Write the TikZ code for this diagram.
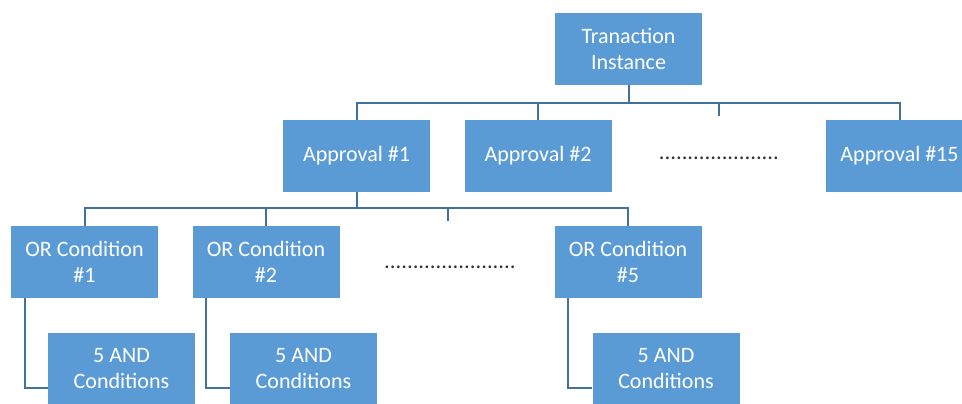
\documentclass[tikz,border=0pt]{standalone}
\usepackage{fontspec}
\setmainfont{Carlito}
\usepackage{tikz}
\definecolor{boxColor}{HTML}{5B9BD5}
\definecolor{lineColor}{HTML}{41719C}

\begin{document}
\begin{tikzpicture}[x=0.75pt, y=-0.75pt,
    box/.style={fill=boxColor, text=white, minimum width=110.25pt, minimum height=54pt,
        inner sep=0pt, align=center, font=\fontsize{16.5}{19.5}\selectfont},
    link/.style={lineColor, line width=1.5pt},
    dotrow/.style={inner sep=0pt, text=black!80, font=\fontsize{17}{20}\selectfont}]
    \useasboundingbox (0,0) rectangle (962,403);
    \clip (0,0) rectangle (962,403);

    % top level
    \node[box] (tr) at (628.5,49) {Tranaction\\Instance};

    % approvals
    \node[box] (ap1) at (356.5,156) {Approval \#1};
    \node[box] (ap2) at (538,156) {Approval \#2};
    \node[box] (ap15) at (899.5,156) {Approval \#15};
    \node[dotrow] (dots1) at (719,158) {.....................};

    % or conditions
    \node[box] (or1) at (84.5,262) {OR Condition\\\#1};
    \node[box] (or2) at (266,262) {OR Condition\\\#2};
    \node[box] (or5) at (628,262) {OR Condition\\\#5};
    \node[dotrow] (dots2) at (450,267) {.......................};

    % and conditions
    \node[box] (and1) at (121.5,369) {5 AND\\Conditions};
    \node[box] (and2) at (303.5,369) {5 AND\\Conditions};
    \node[box] (and5) at (666,369) {5 AND\\Conditions};

    % connectors
    \draw[link] (tr.south) -- ++(0,18) coordinate (topbus);
    \draw[link] (ap1.north) -- (ap1.north |- topbus) -- (ap15.north |- topbus) -- (ap15.north);
    \draw[link] (ap2.north) -- (ap2.north |- topbus);
    \coordinate (tick1) at (719,103);
    \draw[link] (tick1) -- ++(0,13);

    \draw[link] (ap1.south) -- ++(0,16) coordinate (midbus);
    \draw[link] (or1.north) -- (or1.north |- midbus) -- (or5.north |- midbus) -- (or5.north);
    \draw[link] (or2.north) -- (or2.north |- midbus);
    \coordinate (tick2) at (448,208);
    \draw[link] (tick2) -- ++(0,13);

    \draw[link] ([xshift=10.5pt]or1.south west) |- ([yshift=-14.25pt]and1.west);
    \draw[link] ([xshift=10.5pt]or2.south west) |- ([yshift=-14.25pt]and2.west);
    \draw[link] ([xshift=10.5pt]or5.south west) |- ([yshift=-14.25pt]and5.west);
\end{tikzpicture}
\end{document}
